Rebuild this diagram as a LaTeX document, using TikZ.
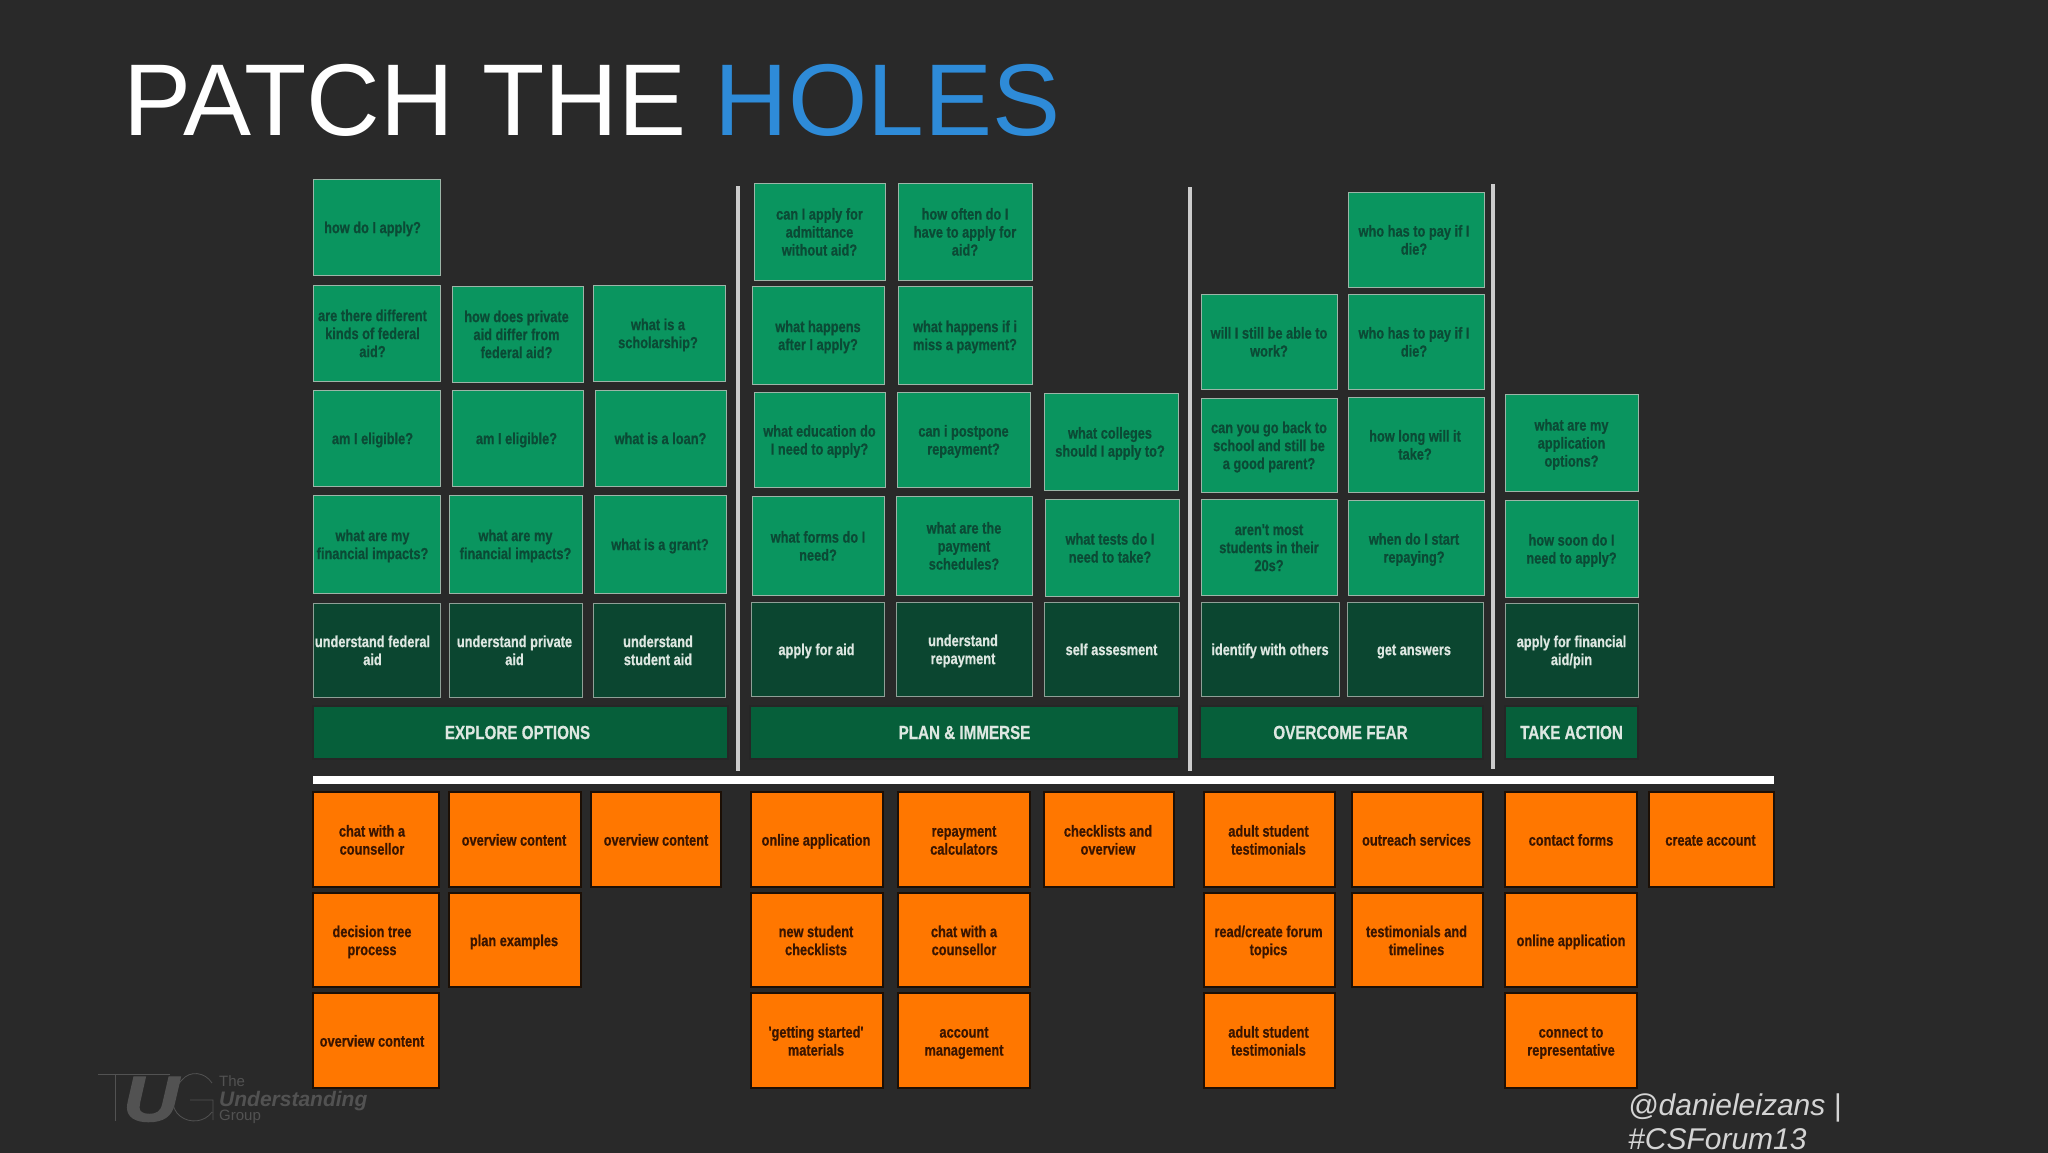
\documentclass[tikz,border=0pt]{standalone}
\usepackage{fontspec}
\setmainfont{Liberation Sans}
\newfontfamily\cardfont[FakeStretch=0.8,BoldFeatures={FakeBold=0.6}]{Liberation Sans}
\newfontfamily\logofont[BoldItalicFeatures={FakeBold=2}]{Liberation Sans}
\definecolor{bgc}{HTML}{292929}
\definecolor{greenc}{HTML}{0A955F}
\definecolor{greenb}{HTML}{9DB5A8}
\definecolor{greent}{HTML}{0B4A35}
\definecolor{darkc}{HTML}{0B4630}
\definecolor{darkb}{HTML}{8FA097}
\definecolor{darkt}{HTML}{DDE7E1}
\definecolor{banc}{HTML}{065F3A}
\definecolor{orc}{HTML}{FF7700}
\definecolor{orb}{HTML}{1C0F05}
\definecolor{ort}{HTML}{3A1500}
\definecolor{blueh}{HTML}{2E8BD8}
\definecolor{logoc}{HTML}{525252}
\definecolor{handlec}{HTML}{D4D4D4}
\tikzset{
  cardbase/.style={rectangle,inner sep=0pt,outer sep=0pt,align=center},
  q/.style={cardbase,fill=greenc,draw=greenb,line width=1pt,text=greent},
  d/.style={cardbase,fill=darkc,draw=darkb,line width=1pt,text=darkt},
  ban/.style={cardbase,fill=banc,draw=black!85,line width=1.2pt,text=darkt},
  o/.style={cardbase,fill=orc,draw=orb,line width=1.2pt,text=ort},
  vsep/.style={draw=black!20,line width=4pt},
  hsep/.style={draw=white,line width=8pt},
  logothin/.style={draw=logoc,line width=0.8pt}
}
% name, style, x0, y0, x1, y1, right kern, text
\newcommand{\card}[8]{%
  \node[#2,minimum width={(#5-#3)*1pt},minimum height={(#6-#4)*1pt}] (#1) at ({(#3+#5)/2},{(#4+#6)/2})
    {\cardfont\bfseries\fontsize{16}{18}\selectfont\begin{tabular}{@{}c@{}}\rule{0pt}{17.6pt}#8\end{tabular}\kern#7pt};}
\newcommand{\banner}[7]{%
  \node[ban,minimum width={(#4-#2)*1pt},minimum height={(#5-#3)*1pt}] (#1) at ({(#2+#4)/2},{(#3+#5)/2})
    {\cardfont\bfseries\fontsize{19}{24}\selectfont #7\kern#6pt};}
\begin{document}
\begin{tikzpicture}[x=1pt,y=-1pt]
\useasboundingbox (0,0) rectangle (2048,1152);
\fill[bgc] (-5,-5) rectangle (2053,1157);
% title
\node[anchor=base west,inner sep=0pt,text=white,font=\fontsize{102}{110}\selectfont] (title) at (123,135) {PATCH THE \textcolor{blueh}{HOLES}};
% separators
\draw[vsep] (738,186) -- (738,771);
\draw[vsep] (1190,187) -- (1190,771);
\draw[vsep] (1493,184) -- (1493,769);
\draw[hsep] (313,780) -- (1774,780);
% explore
\card{a1}{q}{313}{179}{440}{275}{8}{how do I apply?}
\card{a2}{q}{313}{285}{440}{381}{8}{are there different\\kinds of federal\\aid?}
\card{a3}{q}{313}{390}{440}{486}{8}{am I eligible?}
\card{a4}{q}{313}{495}{440}{593}{8}{what are my\\financial impacts?}
\card{a5}{d}{313}{603}{440}{697}{8}{understand federal\\aid}
\card{b2}{q}{452}{286}{583}{382}{2}{how does private\\aid differ from\\federal aid?}
\card{b3}{q}{452}{390}{583}{486}{2}{am I eligible?}
\card{b4}{q}{449}{495}{582}{593}{0}{what are my\\financial impacts?}
\card{b5}{d}{449}{603}{582}{697}{2}{understand private\\aid}
\card{c2}{q}{593}{285}{725}{381}{2}{what is a\\scholarship?}
\card{c3}{q}{595}{390}{726}{486}{0}{what is a loan?}
\card{c4}{q}{594}{495}{726}{593}{0}{what is a grant?}
\card{c5}{d}{593}{603}{725}{697}{2}{understand\\student aid}
\banner{explore}{313}{706}{728}{759}{6}{EXPLORE OPTIONS}
% plan
\card{e1}{q}{754}{183}{885}{280}{0}{can I apply for\\admittance\\without aid?}
\card{e2}{q}{752}{286}{884}{384}{0}{what happens\\after I apply?}
\card{e3}{q}{754}{392}{885}{487}{0}{what education do\\I need to apply?}
\card{e4}{q}{752}{496}{884}{595}{0}{what forms do I\\need?}
\card{e5}{d}{751}{602}{884}{696}{2}{apply for aid}
\card{f1}{q}{898}{183}{1032}{280}{0}{how often do I\\have to apply for\\aid?}
\card{f2}{q}{898}{286}{1032}{384}{0}{what happens if i\\miss a payment?}
\card{f3}{q}{897}{392}{1030}{487}{0}{can i postpone\\repayment?}
\card{f4}{q}{896}{496}{1032}{595}{0}{what are the\\payment\\schedules?}
\card{f5}{d}{896}{602}{1032}{696}{2}{understand\\repayment}
\card{g3}{q}{1044}{393}{1178}{490}{2}{what colleges\\should I apply to?}
\card{g4}{q}{1045}{499}{1179}{596}{4}{what tests do I\\need to take?}
\card{g5}{d}{1044}{602}{1179}{696}{0}{self assesment}
\banner{plan}{750}{706}{1179}{759}{0}{PLAN \& IMMERSE}
% overcome
\card{h2}{q}{1201}{294}{1337}{389}{0}{will I still be able to\\work?}
\card{h3}{q}{1201}{398}{1337}{492}{0}{can you go back to\\school and still be\\a good parent?}
\card{h4}{q}{1201}{499}{1337}{595}{0}{aren't most\\students in their\\20s?}
\card{h5}{d}{1201}{602}{1339}{696}{0}{identify with others}
\card{i1}{q}{1348}{192}{1484}{287}{4}{who has to pay if I\\die?}
\card{i2}{q}{1348}{294}{1484}{389}{4}{who has to pay if I\\die?}
\card{i3}{q}{1348}{397}{1484}{492}{2}{how long will it\\take?}
\card{i4}{q}{1348}{500}{1484}{595}{4}{when do I start\\repaying?}
\card{i5}{d}{1347}{602}{1483}{696}{2}{get answers}
\banner{overcome}{1200}{706}{1483}{759}{2}{OVERCOME FEAR}
% action
\card{j3}{q}{1505}{394}{1638}{491}{0}{what are my\\application\\options?}
\card{j4}{q}{1505}{500}{1638}{597}{0}{how soon do I\\need to apply?}
\card{j5}{d}{1505}{603}{1638}{697}{0}{apply for financial\\aid/pin}
\banner{action}{1505}{706}{1638}{759}{0}{TAKE ACTION}
% orange
\card{o1}{o}{313}{792}{439}{887}{8}{chat with a\\counsellor}
\card{o2}{o}{313}{893}{439}{987}{8}{decision tree\\process}
\card{o3}{o}{313}{993}{439}{1088}{8}{overview content}
\card{o4}{o}{449}{792}{581}{887}{2}{overview content}
\card{o5}{o}{449}{893}{581}{987}{2}{plan examples}
\card{o6}{o}{591}{792}{721}{887}{0}{overview content}
\card{o7}{o}{751}{792}{883}{887}{2}{online application}
\card{o8}{o}{751}{893}{883}{987}{2}{new student\\checklists}
\card{o9}{o}{751}{993}{883}{1088}{2}{'getting started'\\materials}
\card{o10}{o}{898}{792}{1030}{887}{0}{repayment\\calculators}
\card{o11}{o}{898}{893}{1030}{987}{0}{chat with a\\counsellor}
\card{o12}{o}{898}{993}{1030}{1088}{0}{account\\management}
\card{o13}{o}{1044}{792}{1174}{887}{2}{checklists and\\overview}
\card{o14}{o}{1204}{792}{1335}{887}{2}{adult student\\testimonials}
\card{o15}{o}{1204}{893}{1335}{987}{2}{read/create forum\\topics}
\card{o16}{o}{1204}{993}{1335}{1088}{2}{adult student\\testimonials}
\card{o17}{o}{1352}{792}{1483}{887}{2}{outreach services}
\card{o18}{o}{1352}{893}{1483}{987}{2}{testimonials and\\timelines}
\card{o19}{o}{1505}{792}{1637}{887}{0}{contact forms}
\card{o20}{o}{1505}{893}{1637}{987}{0}{online application}
\card{o21}{o}{1505}{993}{1637}{1088}{0}{connect to\\representative}
\card{o22}{o}{1649}{792}{1774}{887}{2}{create account}
% handle
\node[anchor=base west,inner sep=0pt,text=handlec,font=\fontsize{30}{34}\selectfont\itshape] (handle1) at (1628,1115) {@danieleizans |};
\node[anchor=base west,inner sep=0pt,text=handlec,font=\fontsize{30}{34}\selectfont\itshape] (handle2) at (1628,1149) {\#CSForum13};
% logo
\draw[logothin] (98,1074) -- (170,1074) (115,1074) -- (115,1121);
\node[anchor=base,inner sep=0pt,text=logoc,font=\logofont\bfseries\itshape\fontsize{64}{64}\selectfont] (logou) at (151,1121) {\scalebox{1.2}[1]{U}};
\draw[logothin] (212,1083) .. controls (205,1072) and (190,1070) .. (182,1080) .. controls (170,1092) and (170,1108) .. (180,1116) .. controls (190,1124) and (205,1122) .. (212,1112) (190,1100) -- (213,1100) -- (213,1120);
\node[anchor=base west,inner sep=0pt,text=logoc,font=\fontsize{15}{15}\selectfont] (logo1) at (219,1086) {The};
\node[anchor=base west,inner sep=0pt,text=logoc,font=\bfseries\itshape\fontsize{21}{21}\selectfont] (logo2) at (219,1106) {Understanding};
\node[anchor=base west,inner sep=0pt,text=logoc,font=\fontsize{15}{15}\selectfont] (logo3) at (219,1120) {Group};
\end{tikzpicture}
\end{document}
